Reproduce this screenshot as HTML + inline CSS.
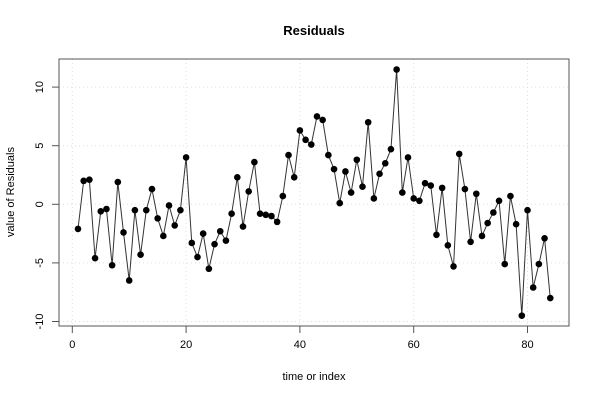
<!DOCTYPE html>
<html><head><meta charset="utf-8"><style>body{margin:0;background:#fff}svg{display:block;font-family:"Liberation Sans",sans-serif}</style></head>
<body>
<svg id="chart" width="600" height="400">
<rect width="600" height="400" fill="#fff"/>
<text x="314" y="35" font-size="13" font-weight="bold" text-anchor="middle">Residuals</text>
<text x="314" y="380" font-size="11" text-anchor="middle">time or index</text>
<text transform="translate(14,192) rotate(-90)" font-size="11" text-anchor="middle">value of Residuals</text>
<g id="grid"></g><g id="axes"></g><g id="series"></g>
<rect x="59" y="59" width="510" height="267" fill="none" stroke="#555"/>
</svg>
<script>
const values=[-2.1,2.0,2.1,-4.6,-0.6,-0.4,-5.2,1.9,-2.4,-6.5,-0.5,-4.3,-0.5,1.3,-1.2,-2.7,-0.1,-1.8,-0.5,4.0,-3.3,-4.5,-2.5,-5.5,-3.4,-2.3,-3.1,-0.8,2.3,-1.9,1.1,3.6,-0.8,-0.9,-1.0,-1.5,0.7,4.2,2.3,6.3,5.5,5.1,7.5,7.2,4.2,3.0,0.1,2.8,1.0,3.8,1.5,7.0,0.5,2.6,3.5,4.7,11.5,1.0,4.0,0.5,0.3,1.8,1.6,-2.6,1.4,-3.5,-5.3,4.3,1.3,-3.2,0.9,-2.7,-1.6,-0.7,0.3,-5.1,0.7,-1.7,-9.5,-0.5,-7.1,-5.1,-2.9,-8.0];
const xTicks=[0,20,40,60,80];
const yTicks=[-10,-5,0,5,10];
const NS="http://www.w3.org/2000/svg";
const X=v=>72.3+v*5.69;
const Y=v=>204.3-v*11.72;
function mk(t,a,p){const e=document.createElementNS(NS,t);for(const k in a)e.setAttribute(k,a[k]);p.appendChild(e);return e;}
const grid=document.getElementById('grid'),axes=document.getElementById('axes'),ser=document.getElementById('series');
xTicks.forEach(t=>{
const g=mk('line',{x1:X(t),x2:X(t),y1:59,y2:326,stroke:'#ddd','stroke-dasharray':'1,3'},grid);


const k=mk('line',{x1:X(t),x2:X(t),y1:326,y2:333,stroke:'#555'},axes);


const l=mk('text',{x:X(t),y:348,'font-size':11,'text-anchor':'middle'},axes);l.textContent=t;


});
yTicks.forEach(t=>{
const g=mk('line',{x1:59,x2:569,y1:Y(t),y2:Y(t),stroke:'#ddd','stroke-dasharray':'1,3'},grid);


const k=mk('line',{x1:52,x2:59,y1:Y(t),y2:Y(t),stroke:'#555'},axes);


const l=mk('text',{transform:`translate(43,${Y(t)}) rotate(-90)`,'font-size':11,'text-anchor':'middle'},axes);l.textContent=t;


});
const pl=mk('polyline',{points:values.map((v,i)=>X(i+1)+','+Y(v)).join(' '),fill:'none',stroke:'#333','stroke-width':1},ser);


values.forEach((v,i)=>{
const c=mk('circle',{cx:X(i+1),cy:Y(v),r:3.3,fill:'#000'},ser);


});
</script>
</body></html>
